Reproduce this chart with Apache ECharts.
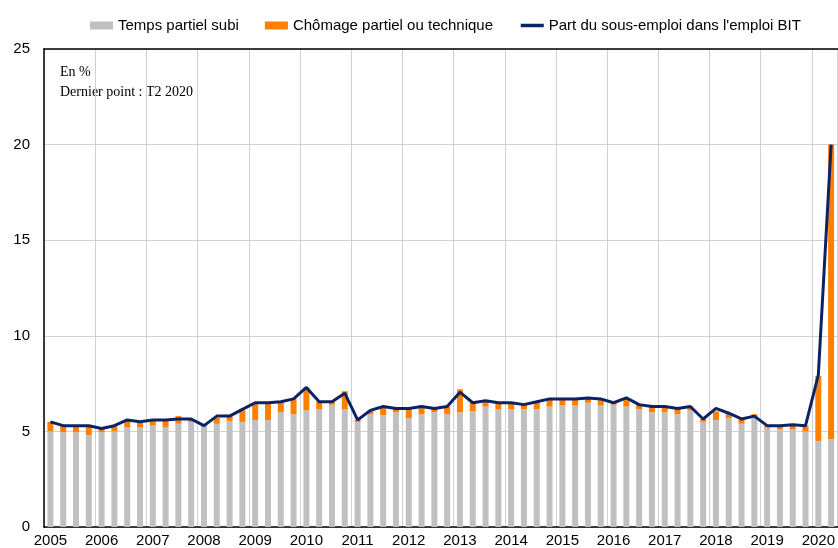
<!DOCTYPE html>
<html>
<head>
<meta charset="utf-8">
<script src="https://cdn.jsdelivr.net/npm/echarts@6/dist/echarts.min.js"></script>
<style>
  html, body { margin: 0; padding: 0; background: #fff; }
  #chart { width: 838px; height: 548px; }
</style>
</head>
<body>
<div id="chart"></div>
<script>
// quarters 2005 T1 .. 2020 T2
var quarters = [];
for (var y = 2005; y <= 2020; y++) {
    for (var q = 1; q <= 4; q++) {
        if (y === 2020 && q > 2) break;
        quarters.push(y + ' T' + q);
    }
}

// Temps partiel subi
var tempsPartiel = [
    5.0, 4.95, 4.95, 4.8,
    4.95, 5.0, 5.2, 5.2,
    5.3, 5.2, 5.4, 5.5,
    5.3, 5.4, 5.55, 5.5,
    5.6, 5.6, 6.0, 5.9,
    6.1, 6.15, 6.4, 6.15,
    5.5, 5.9, 5.85, 6.0,
    5.7, 5.9, 6.0, 5.9,
    6.0, 6.05, 6.3, 6.15,
    6.15, 6.15, 6.15, 6.3,
    6.35, 6.35, 6.5, 6.35,
    6.4, 6.3, 6.15, 6.0,
    6.0, 5.9, 6.1, 5.5,
    5.6, 5.7, 5.4, 5.75,
    5.2, 5.1, 5.1, 5.0,
    4.5, 4.6
];

// Chômage partiel ou technique
var chomagePartiel = [
    0.5, 0.35, 0.35, 0.5,
    0.2, 0.3, 0.4, 0.3,
    0.3, 0.4, 0.4, 0.1,
    0.05, 0.3, 0.25, 0.6,
    0.9, 0.9, 0.55, 0.8,
    1.2, 0.4, 0.15, 0.95,
    0.1, 0.2, 0.45, 0.2,
    0.5, 0.4, 0.2, 0.4,
    1.2, 0.45, 0.3, 0.35,
    0.35, 0.25, 0.4, 0.4,
    0.35, 0.35, 0.25, 0.35,
    0.1, 0.4, 0.25, 0.3,
    0.3, 0.3, 0.2, 0.15,
    0.45, 0.25, 0.25, 0.15,
    0.1, 0.2, 0.25, 0.3,
    3.4, 15.4
];

// Part du sous-emploi dans l'emploi BIT
var sousEmploi = [
    5.5, 5.3, 5.3, 5.3,
    5.15, 5.3, 5.6, 5.5,
    5.6, 5.6, 5.65, 5.65,
    5.3, 5.8, 5.8, 6.15,
    6.5, 6.5, 6.55, 6.7,
    7.3, 6.55, 6.55, 7.0,
    5.6, 6.1, 6.3, 6.2,
    6.2, 6.3, 6.2, 6.3,
    7.05, 6.5, 6.6, 6.5,
    6.5, 6.4, 6.55, 6.7,
    6.7, 6.7, 6.75, 6.7,
    6.5, 6.75, 6.4, 6.3,
    6.3, 6.2, 6.3, 5.65,
    6.2, 5.95, 5.65, 5.8,
    5.3, 5.3, 5.35, 5.3,
    7.95, 20.0
];

var chart = echarts.init(document.getElementById('chart'));
chart.setOption({
    animation: false,
    textStyle: { fontFamily: 'Liberation Sans, Arial, sans-serif' },
    legend: {
        top: 13,
        left: 85,
        itemGap: 26,
        itemWidth: 23,
        itemHeight: 8,
        textStyle: { fontSize: 15, color: '#000' },
        data: [
            { name: 'Temps partiel subi', icon: 'rect' },
            { name: 'Chômage partiel ou technique', icon: 'rect' },
            { name: "Part du sous-emploi dans l'emploi BIT", itemStyle: { opacity: 0 }, lineStyle: { width: 3.5 } }
        ]
    },
    grid: { left: 44, right: 0, top: 49, bottom: 21 },
    xAxis: [{
        type: 'category',
        data: quarters,
        boundaryGap: true,
        axisLine: { lineStyle: { color: '#000', width: 1.5 } },
        axisTick: { show: false },
        axisLabel: {
            interval: 3,
            margin: 6,
            fontSize: 15,
            color: '#000',
            formatter: function (v) { return v.slice(0, 4); }
        },
        splitLine: { show: true, interval: 3, lineStyle: { color: '#d0d0d0', width: 1 } }
    }, {
        type: 'category',
        position: 'top',
        data: quarters,
        axisLine: { show: true, onZero: false, lineStyle: { color: '#000', width: 1.5 } },
        axisTick: { show: false },
        axisLabel: { show: false },
        splitLine: { show: false }
    }],
    yAxis: {
        type: 'value',
        min: 0,
        max: 25,
        interval: 5,
        axisLine: { show: true, lineStyle: { color: '#000', width: 1.5 } },
        axisTick: { show: false },
        axisLabel: { margin: 14, fontSize: 15, color: '#000' },
        splitLine: { lineStyle: { color: '#d0d0d0', width: 1 } }
    },
    graphic: [
        { type: 'text', left: 60, top: 65, style: { text: 'En %', font: '14px "Liberation Serif", "Times New Roman", serif', fill: '#000' } },
        { type: 'text', left: 60, top: 85, style: { text: 'Dernier point : T2 2020', font: '14px "Liberation Serif", "Times New Roman", serif', fill: '#000' } }
    ],
    series: [{
        name: 'Temps partiel subi',
        type: 'bar',
        stack: 'total',
        barWidth: 6,
        itemStyle: { color: '#c0c0c0' },
        data: tempsPartiel
    }, {
        name: 'Chômage partiel ou technique',
        type: 'bar',
        stack: 'total',
        barWidth: 6,
        itemStyle: { color: '#ff8000' },
        data: chomagePartiel
    }, {
        name: "Part du sous-emploi dans l'emploi BIT",
        type: 'line',
        symbol: 'none',
        lineStyle: { color: '#0b2265', width: 3 },
        itemStyle: { color: '#0b2265' },
        data: sousEmploi
    }]
});
</script>
</body>
</html>
